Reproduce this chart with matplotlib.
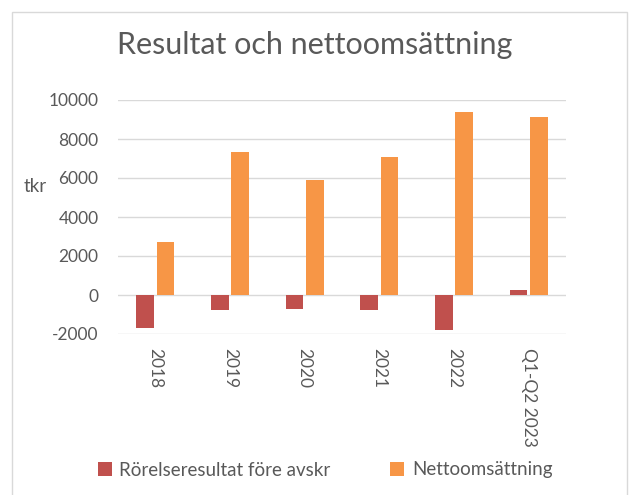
import matplotlib
matplotlib.use("Agg")
import matplotlib.pyplot as plt
import numpy as np
from matplotlib.patches import Rectangle

categories = ["2018", "2019", "2020", "2021", "2022", "Q1-Q2 2023"]
rorelseresultat = [-1700, -780, -710, -780, -1810, 270]
nettoomsattning = [2710, 7330, 5910, 7070, 9370, 9110]
series_names = ["Rörelseresultat före avskr", "Nettoomsättning"]

RED = "#C0504D"
ORANGE = "#F79646"
TEXT = "#595959"
GRID = "#D9D9D9"

plt.rcParams["font.family"] = ["Lato", "DejaVu Sans"]
plt.rcParams["axes.unicode_minus"] = False

fig = plt.figure(figsize=(6.29, 4.95), dpi=100)
# outer chart frame
fig.patches.append(Rectangle((12 / 629, -0.05), 615 / 629, 1 - 12 / 495 + 0.05,
                             transform=fig.transFigure, fill=False,
                             edgecolor="#D9D9D9", linewidth=1.0))

ax = fig.add_axes([118 / 629, 1 - 334 / 495, 448 / 629, 234 / 495])

x = np.arange(len(categories))
w = 0.235
ax.bar(x - 0.135, rorelseresultat, w, color=RED, label=series_names[0], zorder=3)
ax.bar(x + 0.135, nettoomsattning, w, color=ORANGE, label=series_names[1], zorder=3)

ax.set_xlim(-0.5, len(categories) - 0.5)
ax.set_ylim(-2000, 10000)
ax.set_yticks(np.arange(-2000, 10001, 2000))
ax.set_xticks(x)
ax.set_xticklabels(categories, rotation=-90, color=TEXT, fontsize=12.5)
ax.tick_params(axis="y", labelcolor=TEXT, labelsize=12.5, length=0, pad=14)
ax.tick_params(axis="x", length=0, pad=10)
ax.grid(axis="y", color=GRID, linewidth=1.0, zorder=0)
for s in ax.spines.values():
    s.set_visible(False)

fig.text(35 / 629, 1 - 187 / 495, "tkr", color=TEXT, fontsize=13.5,
         ha="center", va="center")
fig.text(315 / 629, 1 - 45 / 495, "Resultat och nettoomsättning", color=TEXT,
         fontsize=22, ha="center", va="center")

fig.legend(loc="center", bbox_to_anchor=(325 / 629, 1 - 470 / 495), ncol=2,
           frameon=False, fontsize=13.5, labelcolor=TEXT, handlelength=0.75,
           handleheight=0.75, handletextpad=0.4, columnspacing=3.2)

fig.savefig("out.png", dpi=100)
